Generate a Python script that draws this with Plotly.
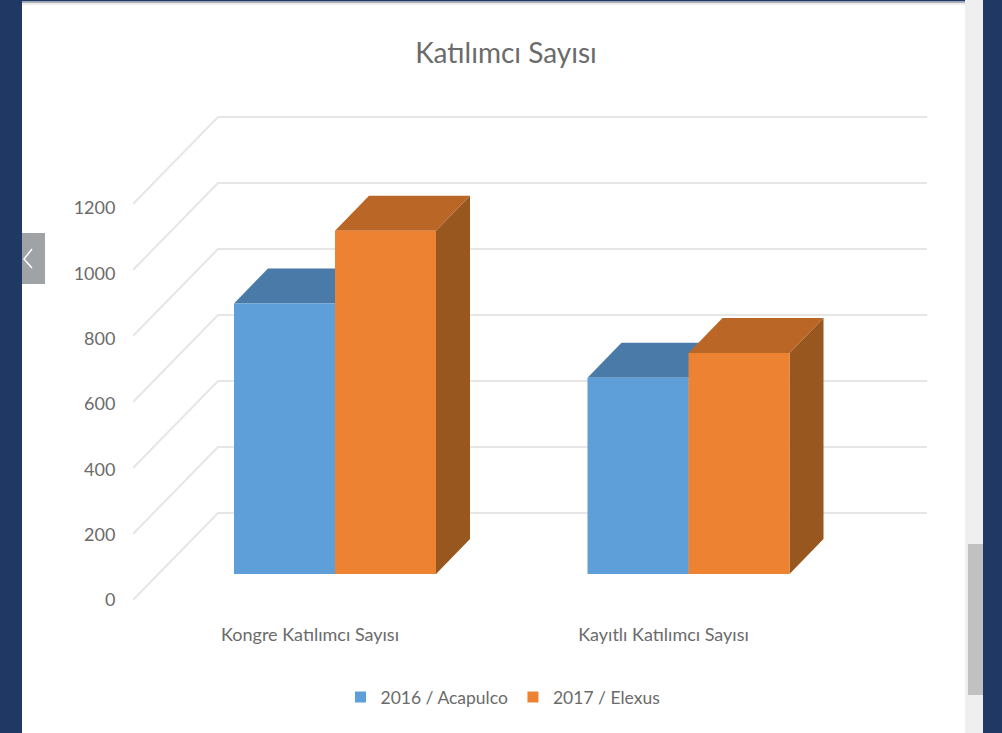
import plotly.graph_objects as go

# Data
categories = ["Kongre Katılımcı Sayısı", "Kayıtlı Katılımcı Sayısı"]
series_names = ["2016 / Acapulco", "2017 / Elexus"]
values_2016 = [820, 595]
values_2017 = [1040, 670]
y_ticks = [0, 200, 400, 600, 800, 1000, 1200]
title_text = "Katılımcı Sayısı"

W, H = 1002, 733
L, R, T, B = 133, 75, 100, 133
PW, PH = W - L - R, H - T - B
PX_PER_CAT = 353.5
PX_PER_VAL = 0.33
X_MIN = -(310 - L) / PX_PER_CAT
X_MAX = X_MIN + PW / PX_PER_CAT
Y_MAX = PH / PX_PER_VAL


def cx(px):
    return px / PX_PER_CAT


def cy(px):
    return px / PX_PER_VAL


FONT = "Lato, Liberation Sans, sans-serif"
TXT = "#6b6b6b"
GRID = "#e6e6e6"

WALL_DX, WALL_DY = cx(85), cy(87)
BAR_SHIFT, BAR_W = cx(25), cx(101)
BASE_DY = cy(26)
DEPTH_X, DEPTH_Y = cx(34), cy(35)

fig = go.Figure()

# 3-D wall gridlines
for v in y_ticks:
    fig.add_trace(go.Scatter(
        x=[X_MIN, X_MIN + WALL_DX, X_MAX],
        y=[v, v + WALL_DY, v + WALL_DY],
        mode="lines", line=dict(color=GRID, width=2),
        showlegend=False, hoverinfo="skip", cliponaxis=False))


def bar3d(i, val, side, front, top, dark):
    # side = 0 left bar, 1 right bar
    x0 = i + BAR_SHIFT + (side - 1) * BAR_W
    x1 = x0 + BAR_W
    y0 = BASE_DY
    y1 = BASE_DY + val
    faces = [
        ([x1, x1 + DEPTH_X, x1 + DEPTH_X, x1, x1],
         [y0, y0 + DEPTH_Y, y1 + DEPTH_Y, y1, y0], dark),
        ([x0, x0 + DEPTH_X, x1 + DEPTH_X, x1, x0],
         [y1, y1 + DEPTH_Y, y1 + DEPTH_Y, y1, y1], top),
        ([x0, x1, x1, x0, x0], [y0, y0, y1, y1, y0], front),
    ]
    for xs, ys, col in faces:
        fig.add_trace(go.Scatter(
            x=xs, y=ys, mode="lines", fill="toself", fillcolor=col,
            line=dict(width=0, color=col), showlegend=False, hoverinfo="skip"))


COL = [("#5f9fd9", "#4a7ba8", "#3f6a92"), ("#ee8233", "#ba6627", "#97571f")]
for i in range(len(categories)):
    bar3d(i, values_2016[i], 0, *COL[0])
    bar3d(i, values_2017[i], 1, *COL[1])

# Legend entries live on the label axis, which keeps that axis drawn
for name, c in zip(series_names, COL):
    fig.add_trace(go.Scatter(
        x=[None], y=[None], name=name, mode="markers", yaxis="y2",
        marker=dict(symbol="square", size=11, color=c[0])))


def px(v):
    return (v - L) / PW


def py(v):
    return 1 - (v - T) / PH


def rect(x0, y0, x1, y1, col):
    return dict(type="rect", xref="paper", yref="paper", x0=px(x0), x1=px(x1),
                y0=py(y0), y1=py(y1), fillcolor=col, line=dict(width=0), layer="below")


NAVY = "#1f3864"
shapes = [
    rect(0, 0, 22, H, NAVY),
    rect(983, 0, W, H, NAVY),
    rect(965, 0, 983, H, "#efefef"),
    rect(968, 544, 983, 695, "#c1c1c1"),
    rect(22, 0, 965, 1.5, NAVY),
    rect(22, 1.5, 965, 3, "#a9b0bb"),
    rect(22, 3, 965, 5, "#eeeeee"),
    rect(22, 233, 45, 284, "#a0a3a6"),
    dict(type="path", xref="paper", yref="paper",
         path=f"M {px(32)} {py(249)} L {px(24)} {py(259)} L {px(32)} {py(268)}",
         line=dict(color="white", width=1.5), layer="below"),
]

# Label axis: the printed scale of the reference is slightly tighter than its walls
LABEL_ZERO_PX = 600
LABEL_PX_PER_VAL = (600 - 208) / 1200
y2_min = -(T + PH - LABEL_ZERO_PX) / LABEL_PX_PER_VAL
y2_max = y2_min + PH / LABEL_PX_PER_VAL

fig.update_layout(
    width=W, height=H, margin=dict(l=L, r=R, t=T, b=B, autoexpand=False),
    paper_bgcolor="white", plot_bgcolor="rgba(0,0,0,0)",
    font=dict(family=FONT, color=TXT),
    title=dict(text=title_text, x=506 / W, xanchor="center", y=1 - 53 / H, yanchor="middle",
               font=dict(size=28, color=TXT, family=FONT)),
    xaxis=dict(range=[X_MIN, X_MAX], tickmode="array", tickvals=list(range(len(categories))),
               ticktext=categories, showgrid=False, zeroline=False, showline=False,
               ticks="outside", ticklen=18, tickcolor="rgba(0,0,0,0)",
               tickfont=dict(size=18, color=TXT, family=FONT)),
    yaxis=dict(range=[0, Y_MAX], showticklabels=False, ticks="", showgrid=False,
               zeroline=False, showline=False),
    yaxis2=dict(range=[y2_min, y2_max], overlaying="y", side="left", anchor="x",
                tickmode="array", tickvals=y_ticks, showgrid=False,
                zeroline=False, showline=False, ticks="outside", ticklen=13,
                tickcolor="rgba(0,0,0,0)", tickfont=dict(size=18, color=TXT, family=FONT)),
    legend=dict(orientation="h", x=503 / W, xref="container", xanchor="center",
                y=1 - 697 / H, yref="container", yanchor="middle",
                font=dict(size=17.5, color=TXT, family=FONT), itemwidth=30,
                bgcolor="rgba(0,0,0,0)"),
    shapes=shapes,
)

fig.write_html("out.html", config=dict(displayModeBar=False),
               post_script="document.body.style.margin='0';document.body.style.overflow='hidden';")
